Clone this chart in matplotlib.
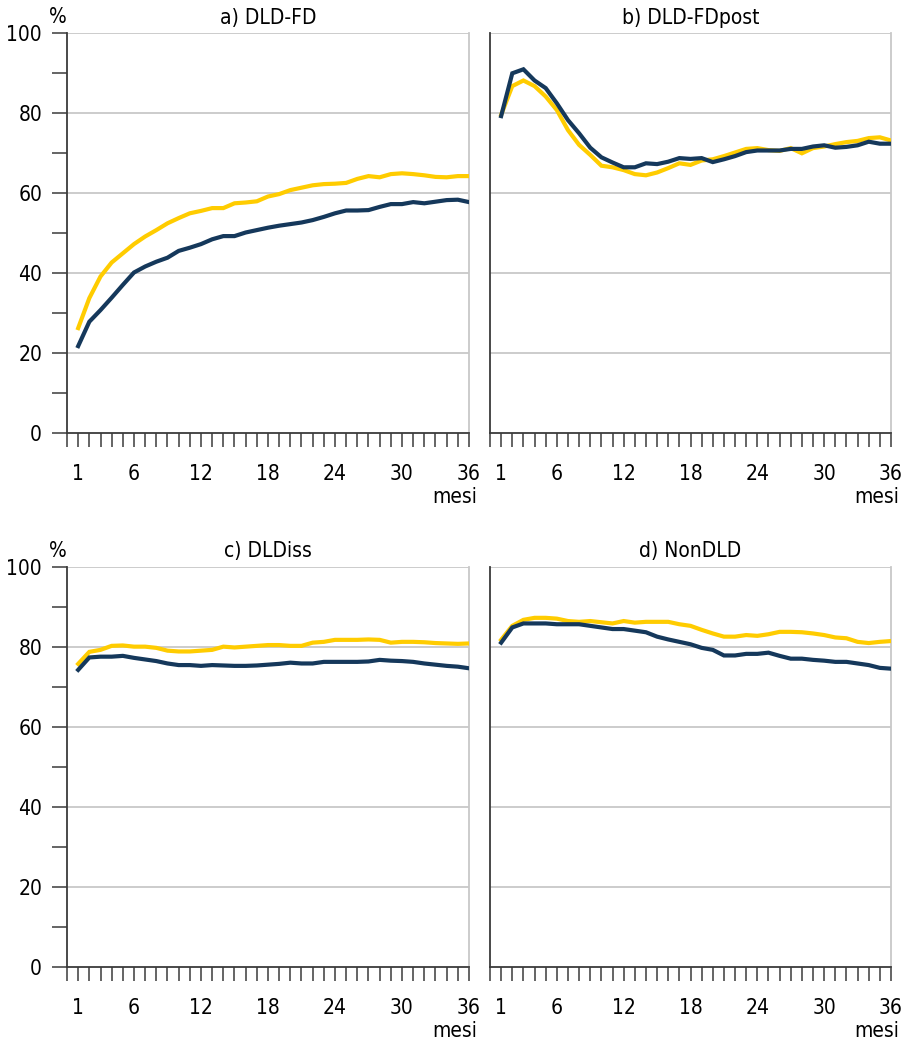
import matplotlib
matplotlib.use("Agg")
import matplotlib.pyplot as plt
from matplotlib import font_manager

# pick a narrow font if one is installed
names = set(f.name for f in font_manager.fontManager.ttflist)
stretch = "normal"
if "Liberation Sans Narrow" in names:
    family = "Liberation Sans Narrow"
else:
    family = "DejaVu Sans"
    if any(f.name == "DejaVu Sans" and "ondensed" in f.fname for f in font_manager.fontManager.ttflist):
        stretch = "condensed"
plt.rcParams["font.family"] = [family]
plt.rcParams["font.stretch"] = stretch

months = list(range(1, 37))
tick_labels = ["1", "6", "12", "18", "24", "30", "36"]
tick_label_pos = [1, 6, 12, 18, 24, 30, 36]
titles = ["a) DLD-FD", "b) DLD-FDpost", "c) DLDiss", "d) NonDLD"]

dldfd_yellow = [26.3, 33.8, 39.2, 42.7, 45.0, 47.3, 49.2, 50.8, 52.5, 53.8, 55.0, 55.6,
                56.3, 56.3, 57.5, 57.7, 58.0, 59.2, 59.8, 60.8, 61.4, 62.0, 62.3, 62.4,
                62.6, 63.6, 64.3, 64.0, 64.8, 65.0, 64.8, 64.5, 64.1, 64.0, 64.3, 64.3]
dldfd_navy = [21.8, 27.9, 30.8, 33.9, 37.1, 40.2, 41.7, 42.9, 43.9, 45.6, 46.4, 47.3,
              48.5, 49.3, 49.3, 50.2, 50.8, 51.4, 51.9, 52.3, 52.7, 53.3, 54.1, 55.0,
              55.7, 55.7, 55.8, 56.6, 57.3, 57.3, 57.8, 57.5, 57.9, 58.3, 58.4, 57.8]

post_yellow = [79.6, 86.8, 88.2, 86.8, 84.2, 80.8, 75.8, 72.1, 69.6, 66.9, 66.5, 65.8,
               64.8, 64.5, 65.2, 66.3, 67.5, 67.1, 68.2, 68.5, 69.3, 70.2, 71.1, 71.3,
               70.8, 70.6, 71.3, 70.0, 71.3, 71.7, 72.3, 72.8, 73.1, 73.8, 74.0, 73.2]
post_navy = [79.3, 90.0, 91.0, 88.2, 86.3, 82.5, 78.3, 75.0, 71.4, 69.0, 67.7, 66.5,
             66.5, 67.5, 67.3, 67.9, 68.8, 68.6, 68.8, 67.8, 68.5, 69.3, 70.3, 70.7,
             70.7, 70.7, 71.1, 71.1, 71.7, 72.0, 71.4, 71.6, 72.0, 72.9, 72.4, 72.4]

diss_yellow = [75.8, 78.8, 79.3, 80.3, 80.4, 80.1, 80.1, 79.8, 79.1, 78.9, 78.9, 79.1,
               79.3, 80.1, 79.9, 80.1, 80.3, 80.5, 80.5, 80.3, 80.3, 81.1, 81.3, 81.8,
               81.8, 81.8, 81.9, 81.8, 81.1, 81.3, 81.3, 81.2, 81.0, 80.9, 80.8, 80.9]
diss_navy = [74.3, 77.4, 77.6, 77.6, 77.8, 77.3, 76.9, 76.5, 75.9, 75.5, 75.5, 75.3,
             75.5, 75.4, 75.3, 75.3, 75.4, 75.6, 75.8, 76.1, 75.9, 75.9, 76.3, 76.3,
             76.3, 76.3, 76.4, 76.8, 76.6, 76.5, 76.3, 75.9, 75.6, 75.3, 75.1, 74.7]

non_yellow = [81.8, 85.3, 86.8, 87.3, 87.3, 87.1, 86.5, 86.3, 86.5, 86.2, 85.9, 86.5,
              86.1, 86.3, 86.3, 86.3, 85.7, 85.3, 84.3, 83.4, 82.6, 82.6, 83.0, 82.8,
              83.2, 83.8, 83.8, 83.7, 83.4, 83.0, 82.4, 82.2, 81.3, 81.0, 81.3, 81.5]
non_navy = [81.1, 84.9, 85.9, 85.9, 85.9, 85.7, 85.7, 85.7, 85.3, 84.9, 84.5, 84.5,
            84.1, 83.7, 82.6, 81.9, 81.3, 80.7, 79.8, 79.3, 77.9, 77.9, 78.3, 78.3,
            78.6, 77.8, 77.1, 77.1, 76.8, 76.6, 76.3, 76.3, 75.9, 75.5, 74.8, 74.6]

yellow_series = [dldfd_yellow, post_yellow, diss_yellow, non_yellow]
navy_series = [dldfd_navy, post_navy, diss_navy, non_navy]

YELLOW = "#FFCC00"
NAVY = "#15385B"
GRID = "#C8C8C8"
DARK = "#3A3A3A"

fig = plt.figure(figsize=(9.1, 10.4), dpi=100)
W, H = 910, 1040
boxes = [(67, 33.3, 469, 433.3), (490, 33.3, 891, 433.3),
         (67, 567, 469, 967.3), (490, 567, 891, 967.3)]

for i, (x0, y0, x1, y1) in enumerate(boxes):
    ax = fig.add_axes([x0 / W, 1 - y1 / H, (x1 - x0) / W, (y1 - y0) / H])
    ax.plot(months, yellow_series[i], color=YELLOW, lw=3.0, solid_joinstyle="miter", zorder=3)
    ax.plot(months, navy_series[i], color=NAVY, lw=3.0, solid_joinstyle="miter", zorder=4)
    ax.set_xlim(0, 36)
    ax.set_ylim(0, 100)
    for g in [20, 40, 60, 80, 100]:
        ax.axhline(g, color=GRID, lw=1.3, zorder=1)

    ax.spines["top"].set_visible(False)
    ax.spines["right"].set_color(GRID)
    ax.spines["right"].set_linewidth(1.3)
    ax.spines["left"].set_color(DARK)
    ax.spines["bottom"].set_color(DARK)
    ax.spines["left"].set_linewidth(1.3)
    ax.spines["bottom"].set_linewidth(1.3)

    ax.set_xticks(range(0, 37))
    ax.set_xticklabels([str(m) if m in tick_label_pos else "" for m in range(0, 37)])
    ax.tick_params(axis="x", direction="out", length=10, width=1.1, color=DARK,
                   pad=12, labelsize=15)

    if i % 2 == 0:
        ax.set_yticks([0, 20, 40, 60, 80, 100])
        ax.set_yticks([10, 30, 50, 70, 90], minor=True)
        ax.tick_params(axis="y", which="both", direction="out", length=11, width=1.1,
                       color=DARK, pad=7, labelsize=15)
        ax.text(-0.022, 1.015, "%", transform=ax.transAxes, ha="center", va="bottom",
                fontsize=15)
    else:
        ax.set_yticks([])

    ax.set_title(titles[i], fontsize=15, pad=7)
    ax.text(1.02, -0.16, "mesi", transform=ax.transAxes, ha="right", va="center",
            fontsize=15)

fig.savefig("out.png", dpi=100)
